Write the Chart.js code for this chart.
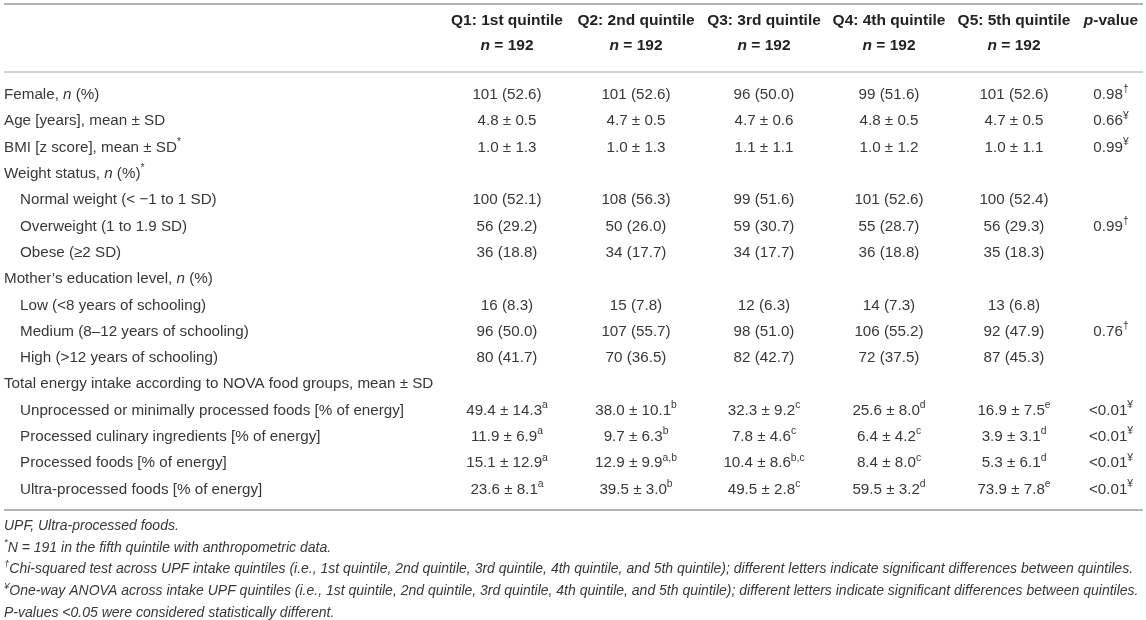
<!DOCTYPE html>
<html>
<head>
<meta charset="utf-8">
<script src="https://cdn.jsdelivr.net/npm/chart.js@4.4.1/dist/chart.umd.min.js"></script>
<style>
  html, body { margin: 0; padding: 0; background: #fff; }
  #wrap { width: 1146px; height: 620px; position: relative; }
</style>
</head>
<body>
<div id="wrap"><canvas id="tbl"></canvas></div>
<script>
// table content  (^{x} = superscript, _x_ = italic)
const rowLabels = [
  "Female, _n_ (%)",
  "Age [years], mean ± SD",
  "BMI [z score], mean ± SD^{*}",
  "Weight status, _n_ (%)^{*}",
  "Normal weight (< −1 to 1 SD)",
  "Overweight (1 to 1.9 SD)",
  "Obese (≥2 SD)",
  "Mother’s education level, _n_ (%)",
  "Low (<8 years of schooling)",
  "Medium (8–12 years of schooling)",
  "High (>12 years of schooling)",
  "Total energy intake according to NOVA food groups, mean ± SD",
  "Unprocessed or minimally processed foods [% of energy]",
  "Processed culinary ingredients [% of energy]",
  "Processed foods [% of energy]",
  "Ultra-processed foods [% of energy]"
];
const rowIndent = [0, 0, 0, 0, 1, 1, 1, 0, 1, 1, 1, 0, 1, 1, 1, 1];

const colHeaders = ["Q1: 1st quintile", "Q2: 2nd quintile", "Q3: 3rd quintile", "Q4: 4th quintile", "Q5: 5th quintile", "_p_-value"];
const colSubHeaders = ["_n_ = 192", "_n_ = 192", "_n_ = 192", "_n_ = 192", "_n_ = 192", ""];

const q1 = ["101 (52.6)", "4.8 ± 0.5", "1.0 ± 1.3", "", "100 (52.1)", "56 (29.2)", "36 (18.8)", "", "16 (8.3)", "96 (50.0)", "80 (41.7)", "",
  "49.4 ± 14.3^{a}", "11.9 ± 6.9^{a}", "15.1 ± 12.9^{a}", "23.6 ± 8.1^{a}"];
const q2 = ["101 (52.6)", "4.7 ± 0.5", "1.0 ± 1.3", "", "108 (56.3)", "50 (26.0)", "34 (17.7)", "", "15 (7.8)", "107 (55.7)", "70 (36.5)", "",
  "38.0 ± 10.1^{b}", "9.7 ± 6.3^{b}", "12.9 ± 9.9^{a,b}", "39.5 ± 3.0^{b}"];
const q3 = ["96 (50.0)", "4.7 ± 0.6", "1.1 ± 1.1", "", "99 (51.6)", "59 (30.7)", "34 (17.7)", "", "12 (6.3)", "98 (51.0)", "82 (42.7)", "",
  "32.3 ± 9.2^{c}", "7.8 ± 4.6^{c}", "10.4 ± 8.6^{b,c}", "49.5 ± 2.8^{c}"];
const q4 = ["99 (51.6)", "4.8 ± 0.5", "1.0 ± 1.2", "", "101 (52.6)", "55 (28.7)", "36 (18.8)", "", "14 (7.3)", "106 (55.2)", "72 (37.5)", "",
  "25.6 ± 8.0^{d}", "6.4 ± 4.2^{c}", "8.4 ± 8.0^{c}", "59.5 ± 3.2^{d}"];
const q5 = ["101 (52.6)", "4.7 ± 0.5", "1.0 ± 1.1", "", "100 (52.4)", "56 (29.3)", "35 (18.3)", "", "13 (6.8)", "92 (47.9)", "87 (45.3)", "",
  "16.9 ± 7.5^{e}", "3.9 ± 3.1^{d}", "5.3 ± 6.1^{d}", "73.9 ± 7.8^{e}"];
const pValues = ["0.98^{†}", "0.66^{¥}", "0.99^{¥}", "", "", "0.99^{†}", "", "", "", "0.76^{†}", "", "",
  "<0.01^{¥}", "<0.01^{¥}", "<0.01^{¥}", "<0.01^{¥}"];

const footnotes = [
  "UPF, Ultra-processed foods.",
  "^{*}N = 191 in the fifth quintile with anthropometric data.",
  "^{†}Chi-squared test across UPF intake quintiles (i.e., 1st quintile, 2nd quintile, 3rd quintile, 4th quintile, and 5th quintile); different letters indicate significant differences between quintiles.",
  "^{¥}One-way ANOVA across intake UPF quintiles (i.e., 1st quintile, 2nd quintile, 3rd quintile, 4th quintile, and 5th quintile); different letters indicate significant differences between quintiles.",
  "P-values <0.05 were considered statistically different."
];

const columns = [q1, q2, q3, q4, q5, pValues];

// layout
const W = 1146, H = 620;
const colX = [507, 636, 764, 889, 1014, 1111];
const labelX = 4, indentX = 20;
const headerY = [21, 46];
const rowTop = 95, rowStep = 26.3;
const footTop = 526, footStep = 21.7;
const FONT = '"Liberation Sans", Arial, sans-serif';
const bodySize = 15.2, headSize = 15.5, footSize = 14;

// rich text: split into plain / italic / superscript pieces
function parseRich(str) {
  const out = [];
  const re = /\^\{([^}]*)\}|_([^_]*)_|([^_^]+)/g;
  let m;
  while ((m = re.exec(str)) !== null) {
    if (m[1] !== undefined) out.push({ t: m[1], sup: true });
    else if (m[2] !== undefined) out.push({ t: m[2], it: true });
    else out.push({ t: m[3] });
  }
  return out;
}

function drawRich(ctx, str, x, y, opt) {
  if (!str) return;
  const size = opt.size || bodySize;
  const segs = parseRich(str);
  const fontOf = (s) => {
    const sz = s.sup ? size * 0.68 : size;
    const style = (opt.italic || s.it) ? "italic " : "";
    const weight = opt.bold ? "bold " : "";
    return style + weight + sz + "px " + FONT;
  };
  let total = 0;
  segs.forEach((s) => {
    ctx.font = fontOf(s);
    s.w = ctx.measureText(s.t).width;
    total += s.w;
  });
  let cx = opt.align === "center" ? x - total / 2 : x;
  ctx.fillStyle = opt.color || "#383838";
  ctx.textAlign = "left";
  ctx.textBaseline = "middle";
  segs.forEach((s) => {
    ctx.font = fontOf(s);
    ctx.fillText(s.t, cx, s.sup ? y - size * 0.36 : y);
    cx += s.w;
  });
}

function hLine(ctx, x0, x1, y, w, color) {
  ctx.save();
  ctx.strokeStyle = color;
  ctx.lineWidth = w;
  ctx.beginPath();
  ctx.moveTo(x0, y);
  ctx.lineTo(x1, y);
  ctx.stroke();
  ctx.restore();
}

const tablePlugin = {
  id: "tableText",
  afterDatasetsDraw(chart) {
    const ctx = chart.ctx;
    const xS = chart.scales.x;
    const yS = chart.scales.y;
    const left = xS.getPixelForValue(4), right = xS.getPixelForValue(1143);

    // rules
    hLine(ctx, left, right, 4, 2, "#b4b4b4");
    hLine(ctx, left, right, 72, 1, "#a8a8a8");
    hLine(ctx, left, right, 510, 2, "#b4b4b4");

    // header
    colHeaders.forEach((h, ci) => {
      const x = xS.getPixelForValue(colX[ci]);
      drawRich(ctx, h, x, headerY[0], { bold: true, size: headSize, align: "center", color: "#222" });
      drawRich(ctx, colSubHeaders[ci], x, headerY[1], { bold: true, size: headSize, align: "center", color: "#222" });
    });

    // row labels
    rowLabels.forEach((lab, ri) => {
      const x = xS.getPixelForValue(rowIndent[ri] ? indentX : labelX);
      drawRich(ctx, lab, x, yS.getPixelForValue(ri), { align: "left" });
    });

    // cells, placed at each (invisible) point of the datasets
    chart.data.datasets.forEach((ds, di) => {
      const meta = chart.getDatasetMeta(di);
      meta.data.forEach((pt, i) => {
        drawRich(ctx, ds.cells[i], pt.x, pt.y, { align: "center" });
      });
    });

    // footnotes
    footnotes.forEach((f, j) => {
      drawRich(ctx, f, xS.getPixelForValue(labelX), footTop + j * footStep, { italic: true, size: footSize });
    });
  }
};

const plotTop = rowTop - rowStep / 2;
const plotBottom = plotTop + rowLabels.length * rowStep;

new Chart(document.getElementById("tbl"), {
  type: "scatter",
  data: {
    datasets: columns.map((vals, ci) => ({
      label: colHeaders[ci],
      cells: vals,
      data: vals.map((v, i) => ({ x: colX[ci], y: i })),
      pointRadius: 0,
      pointHoverRadius: 0
    }))
  },
  options: {
    responsive: true,
    maintainAspectRatio: false,
    animation: false,
    layout: { padding: { top: plotTop, bottom: H - plotBottom, left: 0, right: 0 } },
    scales: {
      x: { type: "linear", min: 0, max: W, display: false },
      y: { type: "linear", min: -0.5, max: rowLabels.length - 0.5, reverse: true, display: false }
    },
    plugins: { legend: { display: false }, tooltip: { enabled: false } }
  },
  plugins: [tablePlugin]
});
</script>
</body>
</html>
